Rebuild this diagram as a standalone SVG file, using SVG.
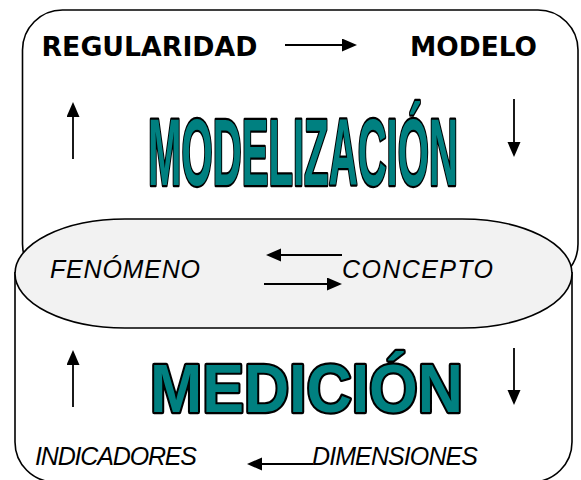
<svg xmlns="http://www.w3.org/2000/svg" width="581" height="480" viewBox="0 0 581 480">
<style>
.frame{fill:none;stroke:#000;stroke-width:1.6}
.oval{fill:#f2f2f2;stroke:#000;stroke-width:1.6}
.lbl{font-family:"DejaVu Sans","Liberation Sans",sans-serif;font-weight:bold;font-size:26.5px;fill:#000}
.it{font-family:"Liberation Sans",Arial,sans-serif;font-style:italic;font-size:25px;fill:#000}
.big{font-family:"Liberation Sans",Arial,sans-serif;font-weight:bold;fill:#008080;stroke:#000;stroke-width:4.4;stroke-linejoin:round;paint-order:stroke}
.conn line{stroke:#000;stroke-width:1.8;marker-end:url(#ah)}
</style>
<defs>
<marker id="ah" markerUnits="userSpaceOnUse" markerWidth="16" markerHeight="14" refX="1" refY="6.5" orient="auto">
<path d="M0,0 L15,6.5 L0,13 Z" fill="#000"/>
</marker>
</defs>
<rect width="581" height="480" fill="#fff"/>
<g id="medicion-frame">
<path class="frame" d="M15,272 V442 A40,40 0 0 0 55,482 H532 A40,40 0 0 0 572,442 V272"/>
</g>
<g id="modelizacion-frame">
<rect class="frame" x="22.5" y="10" width="555.5" height="274" rx="40" ry="40"/>
</g>
<g id="fenomeno-concepto">
<rect class="oval" x="15" y="219" width="557" height="109" rx="110" ry="54.5"/>
</g>
<g id="regularidad"><text class="lbl" x="41.5" y="56" textLength="216" lengthAdjust="spacingAndGlyphs">REGULARIDAD</text></g>
<g id="modelo"><text class="lbl" x="410" y="56" textLength="127" lengthAdjust="spacingAndGlyphs">MODELO</text></g>
<g id="modelizacion"><text class="big" x="148" y="185" font-size="94" textLength="310" lengthAdjust="spacingAndGlyphs">MODELIZACIÓN</text></g>
<g id="fenomeno"><text class="it" x="50" y="278" textLength="150" lengthAdjust="spacing">FENÓMENO</text></g>
<g id="concepto"><text class="it" x="342" y="278" textLength="151" lengthAdjust="spacing">CONCEPTO</text></g>
<g id="medicion"><text class="big" x="150" y="412" font-size="68" textLength="313" lengthAdjust="spacingAndGlyphs">MEDICIÓN</text></g>
<g id="indicadores"><text class="it" x="35" y="465" textLength="162" lengthAdjust="spacing">INDICADORES</text></g>
<g id="dimensiones"><text class="it" x="312" y="465" textLength="166" lengthAdjust="spacing">DIMENSIONES</text></g>
<g id="connectors" class="conn">
<line x1="285" y1="45" x2="343" y2="45"/>
<line x1="73" y1="159" x2="73" y2="116"/>
<line x1="514" y1="99" x2="514" y2="143"/>
<line x1="342" y1="255" x2="280" y2="255"/>
<line x1="264" y1="284" x2="328" y2="284"/>
<line x1="73" y1="407" x2="73" y2="364"/>
<line x1="514" y1="348" x2="514" y2="391"/>
<line x1="313" y1="464" x2="261" y2="464"/>
</g>
</svg>
